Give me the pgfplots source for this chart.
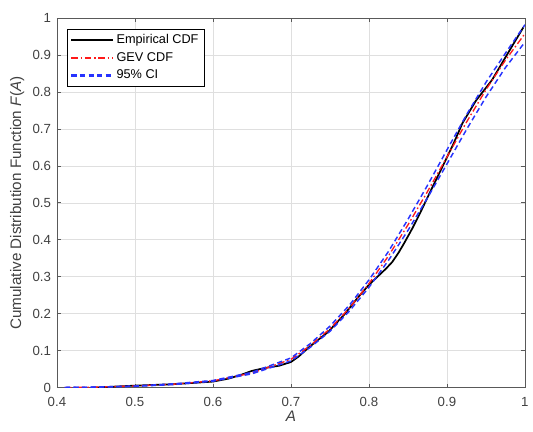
\documentclass[border=0pt]{standalone}
\usepackage{fontspec}
\setmainfont{Liberation Sans}
\usepackage{pgfplots}
\pgfplotsset{compat=1.18}
\definecolor{ciblue}{rgb}{0.15,0.2,1}
\definecolor{gevred}{rgb}{1,0.1,0.1}
\begin{document}
\begin{tikzpicture}
\begin{axis}[
  scale only axis,
  width=353.5pt, height=279pt,
  xmin=0.4, xmax=1, ymin=0, ymax=1,
  xtick={0.4,0.5,...,1.0},
  ytick={0,0.1,...,1.0},
  xticklabels={0.4,0.5,0.6,0.7,0.8,0.9,1},
  yticklabels={0,0.1,0.2,0.3,0.4,0.5,0.6,0.7,0.8,0.9,1},
  /pgf/number format/assume math mode=true,
  tick align=inside,
  major tick length=3pt,
  grid=major,
  major grid style={gray!25, line width=0.4pt},
  axis line style={gray!70!black, line width=0.5pt},
  tick style={gray!70!black, line width=0.5pt},
  ticklabel style={font=\fontsize{10}{12}\selectfont, text=black!75},
  xticklabel style={yshift=-4pt},
  yticklabel style={xshift=-1pt},
  xlabel={\textit{A}},
  ylabel={Cumulative Distribution Function \textit{F}(\textit{A})},
  label style={font=\fontsize{11.5}{13}\selectfont, text=black!75},
  xlabel style={at={(axis description cs:0.5,-0.077)}, anchor=center},
  ylabel style={at={(axis description cs:-0.085,0.5)}, anchor=center},
  legend cell align=left,
  legend style={font=\fontsize{9.6}{11}\selectfont, at={(axis description cs:0.022,0.970)}, anchor=north west, inner xsep=2pt, inner ysep=2pt, row sep=1pt},
]
\addlegendimage{legend image code/.code={\draw[black, line width=1.7pt] (0cm,0cm) -- (1.1cm,0cm);}}
\addlegendentry{Empirical CDF}
\addlegendimage{legend image code/.code={\draw[gevred, line width=1.3pt, dash pattern=on 5pt off 2pt on 1.2pt off 2pt] (0cm,0cm) -- (1.1cm,0cm);}}
\addlegendentry{GEV CDF}
\addlegendimage{legend image code/.code={\draw[ciblue, line width=1.8pt, dash pattern=on 4pt off 2.5pt] (0cm,0cm) -- (1.1cm,0cm);}}
\addlegendentry{95\% CI}
\addplot[draw=black, line width=1.3pt, forget plot] coordinates {
(0.45,0) (0.47,0.002) (0.5,0.005) (0.55,0.009) (0.6,0.016) (0.62,0.024) (0.637,0.035)
(0.65,0.045) (0.667,0.053) (0.685,0.059) (0.70,0.069) (0.71,0.084) (0.722,0.107)
(0.735,0.129) (0.748,0.151) (0.769,0.199) (0.786,0.244) (0.80,0.278) (0.812,0.302)
(0.822,0.322) (0.830,0.340) (0.838,0.365) (0.845,0.390) (0.856,0.432) (0.866,0.474)
(0.88,0.536) (0.895,0.601) (0.908,0.658)
(0.92,0.716) (0.937,0.776) (0.958,0.833) (0.979,0.908) (0.998,0.975)
};
\addplot[draw=gevred, line width=1pt, dash pattern=on 5pt off 2pt on 1.2pt off 2pt, forget plot] coordinates {
(0.41,0) (0.45,0.001) (0.5,0.004) (0.55,0.009) (0.6,0.018) (0.65,0.039) (0.7,0.076)
(0.725,0.114) (0.75,0.159) (0.775,0.215) (0.8,0.281) (0.825,0.356) (0.85,0.440)
(0.875,0.530) (0.9,0.624) (0.925,0.718) (0.95,0.806) (0.975,0.886) (1.0,0.958)
};
\addplot[draw=ciblue, line width=1.1pt, dash pattern=on 4pt off 2.5pt, forget plot] coordinates {
(0.41,0) (0.45,0.001) (0.5,0.004) (0.55,0.010) (0.6,0.019) (0.65,0.041) (0.7,0.080)
(0.725,0.119) (0.75,0.166) (0.775,0.223) (0.8,0.291) (0.825,0.368) (0.85,0.455)
(0.875,0.547) (0.9,0.643) (0.925,0.738) (0.95,0.826) (0.975,0.905) (1.0,0.982)
};
\addplot[draw=ciblue, line width=1.1pt, dash pattern=on 4pt off 2.5pt, forget plot] coordinates {
(0.41,0) (0.45,0.001) (0.5,0.003) (0.55,0.008) (0.6,0.017) (0.65,0.037) (0.7,0.072)
(0.725,0.109) (0.75,0.152) (0.775,0.207) (0.8,0.271) (0.825,0.344) (0.85,0.425)
(0.875,0.513) (0.9,0.605) (0.925,0.698) (0.95,0.786) (0.975,0.866) (1.0,0.935)
};
\end{axis}
\path ([xshift=-43pt,yshift=-33pt]current axis.south west) rectangle ([xshift=3.4pt,yshift=13.7pt]current axis.north east);
\end{tikzpicture}
\end{document}
